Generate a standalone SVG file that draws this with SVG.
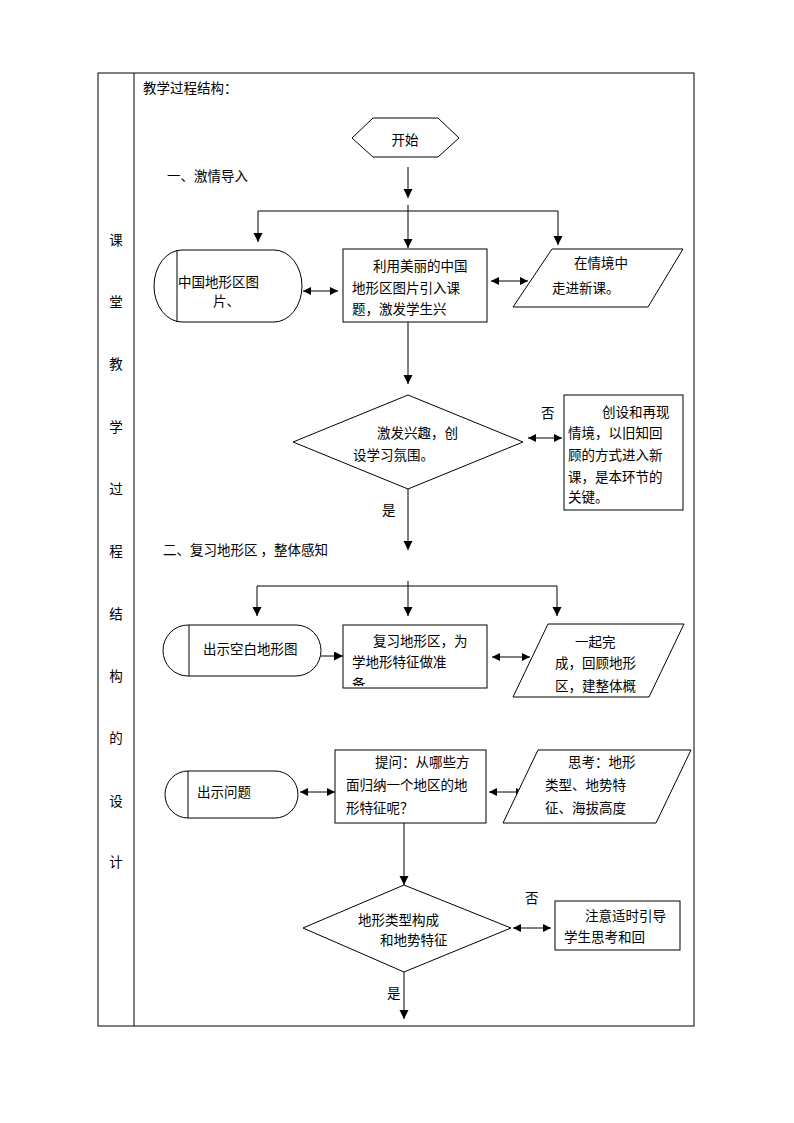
<svg xmlns="http://www.w3.org/2000/svg" width="794" height="1123" viewBox="0 0 794 1123">
<style>
text{font-family:"Noto Sans CJK SC","Noto Sans",sans-serif;font-size:13.5px;fill:#000}
.s{fill:#fff;stroke:#000;stroke-width:1}
.ln{fill:none;stroke:#000;stroke-width:1}
.a{marker-end:url(#ah)}
.d{marker-end:url(#dh);marker-start:url(#dh)}
</style>
<defs>
<marker id="ah" markerUnits="userSpaceOnUse" markerWidth="10" markerHeight="10" refX="9" refY="4.5" orient="auto"><path d="M0,0 L9,4.5 L0,9 z" fill="#000"/></marker>
<marker id="dh" markerUnits="userSpaceOnUse" markerWidth="10" markerHeight="10" refX="8" refY="4" orient="auto-start-reverse"><path d="M0,0 L8,4 L0,8 z" fill="#000"/></marker>
<clipPath id="c2"><rect x="343" y="625" width="144" height="61"/></clipPath>
</defs>
<rect width="794" height="1123" fill="#fff"/>
<g id="table">
<rect x="98" y="73" width="596" height="953" class="ln"/>
<line x1="134" y1="73" x2="134" y2="1026" class="ln"/>
<text x="116" y="245" text-anchor="middle">课</text>
<text x="116" y="307" text-anchor="middle">堂</text>
<text x="116" y="369" text-anchor="middle">教</text>
<text x="116" y="432" text-anchor="middle">学</text>
<text x="116" y="494" text-anchor="middle">过</text>
<text x="116" y="556" text-anchor="middle">程</text>
<text x="116" y="619" text-anchor="middle">结</text>
<text x="116" y="681" text-anchor="middle">构</text>
<text x="116" y="743" text-anchor="middle">的</text>
<text x="116" y="806" text-anchor="middle">设</text>
<text x="116" y="867" text-anchor="middle">计</text>
<text x="143" y="93">教学过程结构：</text>
<text x="167" y="181">一、激情导入</text>
<text x="163" y="555">二、复习地形区 ，整体感知</text>
</g>
<g id="connectors">
<line x1="408" y1="167" x2="408" y2="198" class="ln a"/>
<line x1="258" y1="211" x2="558" y2="211" class="ln"/>
<line x1="408" y1="205" x2="408" y2="248" class="ln a"/>
<line x1="258" y1="211" x2="258" y2="242" class="ln a"/>
<line x1="558" y1="211" x2="558" y2="245" class="ln a"/>
<line x1="303" y1="291" x2="338" y2="291" class="ln d"/>
<line x1="491" y1="281" x2="528" y2="281" class="ln d"/>
<line x1="408" y1="322" x2="408" y2="384" class="ln a"/>
<line x1="528" y1="438" x2="562" y2="438" class="ln d"/>
<line x1="408" y1="489" x2="408" y2="550" class="ln a"/>
<line x1="408" y1="581" x2="408" y2="616" class="ln a"/>
<line x1="257" y1="586" x2="557" y2="586" class="ln"/>
<line x1="257" y1="586" x2="257" y2="616" class="ln a"/>
<line x1="557" y1="586" x2="557" y2="616" class="ln a"/>
<line x1="321" y1="656" x2="343" y2="656" class="ln a"/>
<line x1="492" y1="657" x2="530" y2="657" class="ln d"/>
<line x1="300" y1="792" x2="335" y2="792" class="ln d"/>
<line x1="489" y1="792" x2="524" y2="792" class="ln d"/>
<line x1="404" y1="823" x2="404" y2="885" class="ln a"/>
<line x1="513" y1="928" x2="551" y2="928" class="ln d"/>
<line x1="404" y1="972" x2="404" y2="1019" class="ln a"/>
</g>
<g id="start">
<polygon points="352,138 373,118 438,118 459,138 438,157 373,157" class="s"/>
<text x="405" y="145" text-anchor="middle">开始</text>
</g>
<g id="n1">
<rect x="154" y="250" width="148" height="72" rx="28" ry="36" class="s"/>
<line x1="177" y1="250" x2="177" y2="322" class="ln"/>
<text x="178" y="287">中国地形区图</text>
<text x="213" y="306">片、</text>
</g>
<g id="n2">
<rect x="343" y="249" width="144" height="73" class="s"/>
<text x="373" y="271">利用美丽的中国</text>
<text x="352" y="293">地形区图片引入课</text>
<text x="352" y="314">题，激发学生兴</text>
</g>
<g id="n3">
<polygon points="552,249 683,249 648,307 513,307" class="s"/>
<text x="574" y="268">在情境中</text>
<text x="552" y="293">走进新课。</text>
</g>
<g id="d1">
<polygon points="408,395 523,442 408,489 293,442" class="s"/>
<text x="377" y="438">激发兴趣，创</text>
<text x="353" y="460">设学习氛围。</text>
<text x="541" y="418">否</text>
<text x="382" y="515">是</text>
</g>
<g id="n4">
<rect x="564" y="395" width="119" height="115" class="s"/>
<text x="602" y="417">创设和再现</text>
<text x="568" y="438">情境，以旧知回</text>
<text x="568" y="460">顾的方式进入新</text>
<text x="568" y="482">课，是本环节的</text>
<text x="568" y="502">关键。</text>
</g>
<g id="n5">
<rect x="163" y="625" width="158" height="51" rx="25" ry="25.5" class="s"/>
<line x1="189" y1="625" x2="189" y2="676" class="ln"/>
<text x="203" y="654">出示空白地形图</text>
</g>
<g id="n6">
<rect x="343" y="625" width="144" height="63" class="s"/>
<text x="373" y="646">复习地形区，为</text>
<text x="352" y="667">学地形特征做准</text>
<text x="352" y="689" clip-path="url(#c2)">备</text>
</g>
<g id="n7">
<polygon points="548,624 684,624 649,697 513,697" class="s"/>
<text x="575" y="647">一起完</text>
<text x="555" y="668">成，回顾地形</text>
<text x="555" y="691">区，建整体概</text>
</g>
<g id="n8">
<rect x="165" y="771" width="133" height="47" rx="23" ry="23.5" class="s"/>
<line x1="188" y1="771" x2="188" y2="818" class="ln"/>
<text x="197" y="797">出示问题</text>
</g>
<g id="n9">
<rect x="335" y="750" width="151" height="73" class="s"/>
<text x="375" y="767">提问：从哪些方</text>
<text x="346" y="790">面归纳一个地区的地</text>
<text x="346" y="813">形特征呢？</text>
</g>
<g id="n10">
<polygon points="538,750 691,750 656,823 503,823" class="s"/>
<text x="568" y="767">思考：地形</text>
<text x="545" y="790">类型、地势特</text>
<text x="545" y="813">征、海拔高度</text>
</g>
<g id="d2">
<polygon points="404,885 511,928 404,972 303,928" class="s"/>
<text x="358" y="925">地形类型构成</text>
<text x="380" y="945">和地势特征</text>
<text x="525" y="903">否</text>
<text x="387" y="998">是</text>
</g>
<g id="n11">
<rect x="555" y="901" width="125" height="49" class="s"/>
<text x="585" y="921">注意适时引导</text>
<text x="564" y="942">学生思考和回</text>
</g>
</svg>
